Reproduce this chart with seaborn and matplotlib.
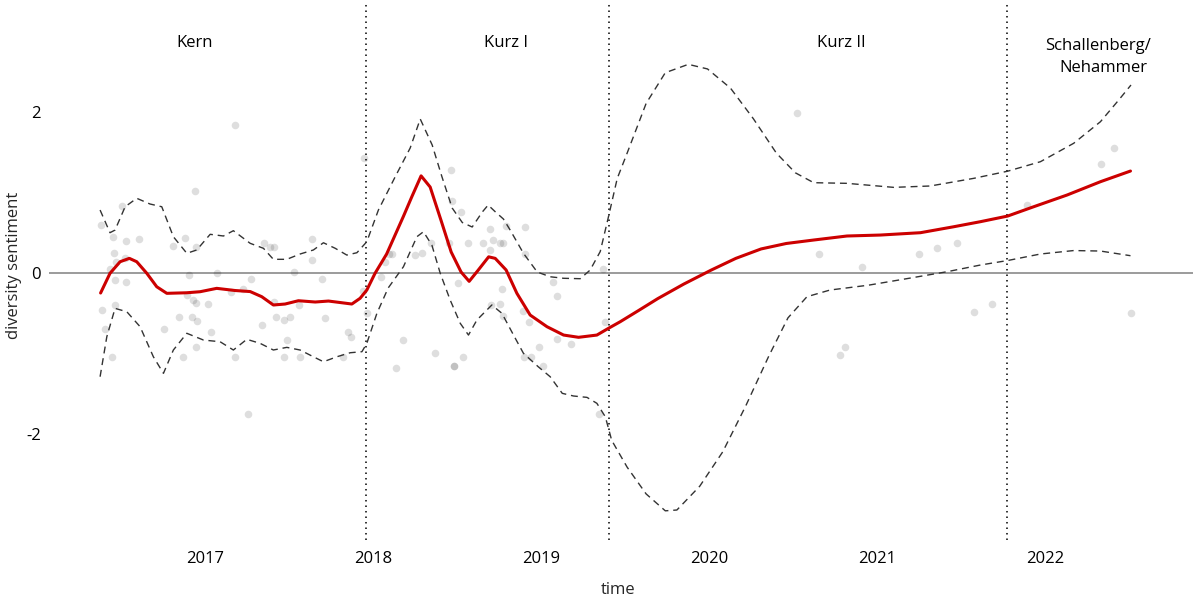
import numpy as np
import pandas as pd
import seaborn as sns
from matplotlib import pyplot as plt

# speeches: time (decimal year) and diversity sentiment
t_points = [2016.381, 2016.390, 2016.408, 2016.435, 2016.448, 2016.452, 2016.460, 2016.466, 2016.466, 2016.472,
            2016.506, 2016.524, 2016.530, 2016.532, 2016.611, 2016.758, 2016.811, 2016.849, 2016.873, 2016.883,
            2016.893, 2016.908, 2016.926, 2016.929, 2016.942, 2016.946, 2016.948, 2016.948, 2016.952, 2017.021,
            2017.036, 2017.073, 2017.158, 2017.180, 2017.182, 2017.225, 2017.255, 2017.276, 2017.339, 2017.350,
            2017.389, 2017.410, 2017.414, 2017.421, 2017.472, 2017.472, 2017.491, 2017.508, 2017.532, 2017.558,
            2017.567, 2017.640, 2017.640, 2017.698, 2017.717, 2017.825, 2017.855, 2017.872, 2017.940, 2017.946,
            2017.966, 2018.049, 2018.070, 2018.099, 2018.115, 2018.139, 2018.180, 2018.253, 2018.292, 2018.347,
            2018.367, 2018.454, 2018.466, 2018.468, 2018.482, 2018.482, 2018.507, 2018.527, 2018.539, 2018.565,
            2018.657, 2018.698, 2018.698, 2018.703, 2018.716, 2018.758, 2018.758, 2018.767, 2018.773, 2018.777,
            2018.790, 2018.896, 2018.902, 2018.904, 2018.908, 2018.932, 2018.940, 2018.988, 2019.015, 2019.071,
            2019.095, 2019.098, 2019.180, 2019.345, 2019.369, 2019.383, 2020.524, 2020.657, 2020.782, 2020.811,
            2020.913, 2021.248, 2021.357, 2021.478, 2021.577, 2021.686, 2021.893, 2022.335, 2022.411, 2022.510]
s_points = [0.595, -0.459, -0.695, 0.047, -1.044, 0.442, 0.243, -0.093, -0.400, 0.138,
            0.835, 0.180, 0.399, -0.114, 0.417, -0.695, 0.333, -0.546, -1.044, 0.429,
            -0.280, -0.027, -0.546, -0.338, 1.017, -0.919, 0.325, -0.379, -0.596, -0.388,
            -0.736, 0.000, -0.239, -1.047, 1.835, -0.195, -1.752, -0.081, -0.643, 0.368,
            0.325, 0.325, -0.363, -0.552, -0.587, -1.047, -0.836, -0.546, 0.006, -0.400,
            -1.047, 0.417, 0.159, -0.081, -0.568, -1.047, -0.736, -0.795, -0.226, 1.434,
            -0.504, -0.049, 0.131, 0.230, 0.230, -1.188, -0.832, 0.219, 0.250, 0.367,
            -1.000, 0.367, 1.279, 0.896, -1.153, -1.153, -0.131, 0.759, -1.047, 0.367,
            0.367, 0.545, 0.281, -0.394, 0.405, 0.367, -0.392, -0.195, 0.367, -0.535,
            0.580, -0.475, -1.045, 0.238, 0.566, -0.612, -1.045, -0.919, -1.155, -0.111,
            -0.286, -0.826, -0.882, -1.756, 0.047, -0.608, 1.988, 0.230, -1.026, -0.919,
            0.068, 0.238, 0.312, 0.367, -0.491, -0.392, 0.843, 1.357, 1.556, -0.500]

# smoothed trend
t_fit = [2016.380, 2016.436, 2016.496, 2016.551, 2016.595, 2016.655, 2016.714, 2016.774, 2016.893, 2016.972,
         2017.071, 2017.180, 2017.270, 2017.339, 2017.408, 2017.478, 2017.557, 2017.657, 2017.736, 2017.815,
         2017.875, 2017.924, 2017.964, 2018.013, 2018.082, 2018.182, 2018.232, 2018.287, 2018.341, 2018.407,
         2018.466, 2018.525, 2018.573, 2018.624, 2018.689, 2018.728, 2018.793, 2018.857, 2018.936, 2019.036,
         2019.135, 2019.224, 2019.333, 2019.402, 2019.472, 2019.580, 2019.695, 2019.850, 2020.014, 2020.160,
         2020.310, 2020.460, 2020.623, 2020.821, 2021.020, 2021.258, 2021.456, 2021.615, 2021.777, 2021.932,
         2022.131, 2022.329, 2022.508]
s_fit = [-0.251, -0.006, 0.138, 0.180, 0.138, -0.006, -0.173, -0.255, -0.248, -0.235,
         -0.193, -0.220, -0.233, -0.297, -0.400, -0.388, -0.347, -0.363, -0.351, -0.372,
         -0.388, -0.317, -0.214, -0.006, 0.234, 0.703, 0.947, 1.206, 1.067, 0.644,
         0.259, 0.010, -0.106, 0.026, 0.199, 0.180, 0.035, -0.255, -0.525, -0.670,
         -0.774, -0.802, -0.774, -0.690, -0.608, -0.470, -0.321, -0.140, 0.035, 0.180,
         0.297, 0.365, 0.408, 0.458, 0.470, 0.499, 0.573, 0.636, 0.706, 0.822,
         0.968, 1.133, 1.266]

# upper confidence bound
t_upper = [2016.377, 2016.436, 2016.466, 2016.526, 2016.595, 2016.674, 2016.744, 2016.813, 2016.893, 2016.952,
           2017.032, 2017.111, 2017.170, 2017.270, 2017.349, 2017.408, 2017.488, 2017.567, 2017.646, 2017.706,
           2017.776, 2017.845, 2017.905, 2017.964, 2018.033, 2018.133, 2018.222, 2018.282, 2018.353, 2018.411,
           2018.472, 2018.532, 2018.591, 2018.651, 2018.686, 2018.728, 2018.777, 2018.817, 2018.896, 2018.978,
           2019.055, 2019.135, 2019.234, 2019.293, 2019.353, 2019.402, 2019.454, 2019.513, 2019.626, 2019.740,
           2019.877, 2019.991, 2020.128, 2020.264, 2020.401, 2020.514, 2020.623, 2020.821, 2021.099, 2021.317,
           2021.575, 2021.777, 2021.972, 2022.170, 2022.329, 2022.438, 2022.511]
s_upper = [0.781, 0.499, 0.532, 0.822, 0.927, 0.856, 0.822, 0.449, 0.243, 0.284,
           0.479, 0.458, 0.524, 0.367, 0.305, 0.168, 0.168, 0.234, 0.284, 0.374,
           0.305, 0.221, 0.250, 0.387, 0.781, 1.195, 1.552, 1.913, 1.590, 1.195,
           0.806, 0.626, 0.570, 0.756, 0.843, 0.760, 0.669, 0.532, 0.243, 0.010,
           -0.049, -0.068, -0.073, 0.035, 0.265, 0.698, 1.173, 1.489, 2.107, 2.489,
           2.593, 2.536, 2.297, 1.917, 1.489, 1.244, 1.121, 1.113, 1.063, 1.080,
           1.175, 1.264, 1.382, 1.611, 1.879, 2.149, 2.336]

# lower confidence bound
t_lower = [2016.377, 2016.417, 2016.466, 2016.536, 2016.615, 2016.694, 2016.754, 2016.813, 2016.893, 2016.992,
           2017.091, 2017.170, 2017.250, 2017.329, 2017.408, 2017.488, 2017.567, 2017.646, 2017.706, 2017.786,
           2017.865, 2017.935, 2017.964, 2018.024, 2018.091, 2018.182, 2018.262, 2018.301, 2018.351, 2018.401,
           2018.460, 2018.520, 2018.569, 2018.619, 2018.708, 2018.768, 2018.837, 2018.896, 2018.984, 2019.055,
           2019.127, 2019.194, 2019.274, 2019.333, 2019.383, 2019.402, 2019.421, 2019.513, 2019.626, 2019.740,
           2019.809, 2019.945, 2020.082, 2020.219, 2020.356, 2020.470, 2020.583, 2020.720, 2020.948, 2021.176,
           2021.417, 2021.615, 2021.777, 2021.972, 2022.170, 2022.329, 2022.508]
s_lower = [-1.292, -0.795, -0.442, -0.484, -0.670, -1.044, -1.250, -0.960, -0.752, -0.836,
           -0.857, -0.960, -0.827, -0.877, -0.960, -0.927, -0.960, -1.044, -1.106, -1.044,
           -0.994, -0.981, -0.877, -0.504, -0.189, 0.076, 0.449, 0.511, 0.346, -0.006,
           -0.338, -0.628, -0.774, -0.587, -0.400, -0.504, -0.774, -1.001, -1.168, -1.292,
           -1.499, -1.532, -1.549, -1.623, -1.790, -1.934, -2.083, -2.417, -2.750, -2.960,
           -2.950, -2.654, -2.226, -1.654, -1.035, -0.560, -0.297, -0.214, -0.154, -0.073,
           0.014, 0.097, 0.153, 0.234, 0.277, 0.271, 0.213]

# government changes
gov_starts = [2017.962, 2019.405, 2021.776]
gov_names = ["Kern", "Kurz I", "Kurz II", "Schallenberg/", "Nehammer"]
gov_label_x = [2016.942, 2018.793, 2020.787, 2022.313, 2022.348]
gov_label_y = [2.864, 2.864, 2.864, 2.821, 2.550]
years = [2017, 2018, 2019, 2020, 2021, 2022]

pts = pd.DataFrame({"time": t_points, "sentiment": s_points})
fit = pd.DataFrame({"time": t_fit, "sentiment": s_fit})
upr = pd.DataFrame({"time": t_upper, "sentiment": s_upper})
lwr = pd.DataFrame({"time": t_lower, "sentiment": s_lower})

sns.set_theme(style="white")
plt.rcParams["font.family"] = ["Open Sans", "DejaVu Sans"]

fig = plt.figure(figsize=(12, 6.06), dpi=100)
ax = fig.add_axes([49 / 1200, 1 - 540 / 606, (1193 - 49) / 1200, (540 - 3) / 606])

ax.axhline(0, color="#808080", lw=1.1, zorder=1)
for g in gov_starts:
    ax.axvline(g, color="black", lw=1.1, linestyle=(0, (1, 2.6)), zorder=1)

sns.scatterplot(data=pts, x="time", y="sentiment", color="black", alpha=0.13,
                s=30, linewidth=0, ax=ax, zorder=2)
sns.lineplot(data=upr, x="time", y="sentiment", color="#333333", lw=1.0,
             linestyle=(0, (5, 3.5)), estimator=None, ax=ax, zorder=3)
sns.lineplot(data=lwr, x="time", y="sentiment", color="#333333", lw=1.0,
             linestyle=(0, (5, 3.5)), estimator=None, ax=ax, zorder=3)
sns.lineplot(data=fit, x="time", y="sentiment", color="#cc0000", lw=2.2,
             estimator=None, ax=ax, zorder=4)

for name, x, y in zip(gov_names, gov_label_x, gov_label_y):
    ax.text(x, y, name, ha="center", va="center", fontsize=12, color="black")

ax.set_xlim(2016.073, 2022.88)
ax.set_ylim(-3.323, 3.356)
ax.set_xticks(years)
ax.set_xticklabels([str(y) for y in years])
ax.set_yticks([-2, 0, 2])
ax.set_yticklabels(["-2", "0", "2"])
ax.tick_params(axis="both", length=0, labelsize=12, labelcolor="black")
ax.tick_params(axis="x", pad=8)
ax.tick_params(axis="y", pad=6)
ax.set_xlabel("time", fontsize=12)
ax.set_ylabel("diversity sentiment", fontsize=12)
ax.xaxis.set_label_coords((618 - 49) / 1144, -(590 - 540) / 537)
ax.yaxis.set_label_coords(-(49 - 14) / 1144, (540 - 265) / 537)
ax.xaxis.label.set_va("center")
ax.yaxis.label.set_va("center")
sns.despine(ax=ax, left=True, bottom=True)
ax.grid(False)

fig.savefig("out.png", dpi=100)
